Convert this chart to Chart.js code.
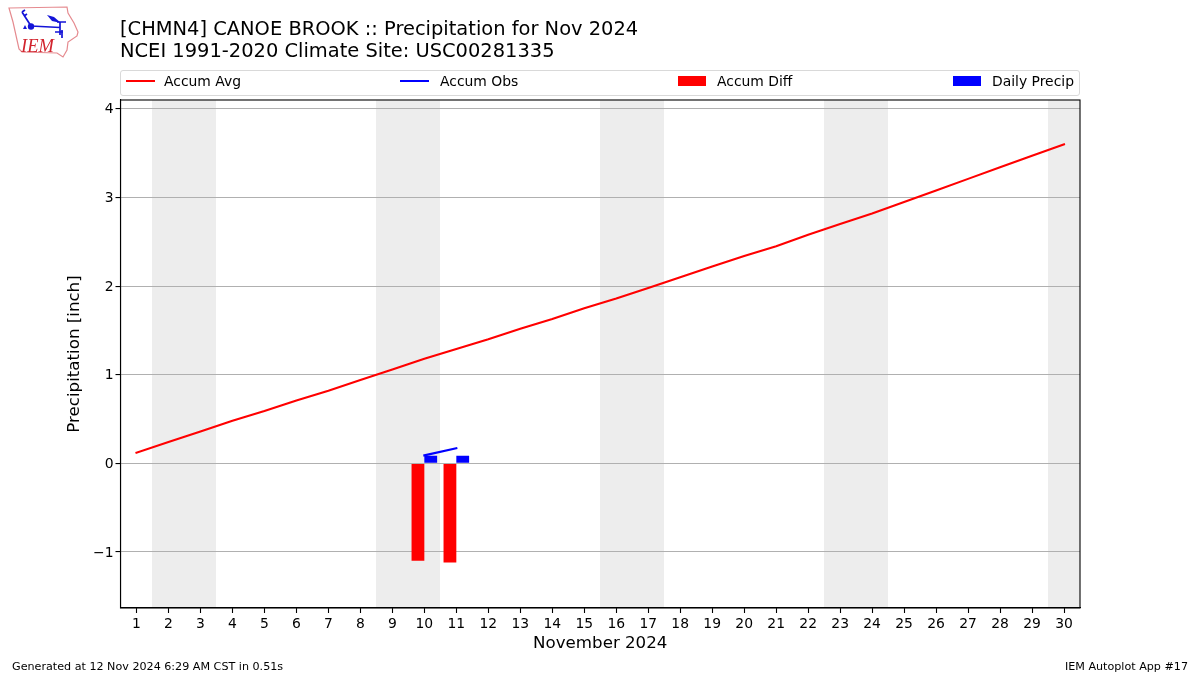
<!DOCTYPE html>
<html>
<head>
<meta charset="utf-8">
<title>Precipitation for Nov 2024</title>
<script src="https://cdn.jsdelivr.net/npm/chart.js@4"></script>
<style>
  html, body { margin: 0; padding: 0; background: #fff; }
  body { width: 1200px; height: 675px; position: relative; overflow: hidden; font-family: "DejaVu Sans", sans-serif; color: #000; }
  #chartBox { position: absolute; left: 0; top: 0; width: 1200px; height: 675px; }
  .abs { position: absolute; white-space: nowrap; }
  #title { left: 120px; top: 18px; font-size: 19.45px; line-height: 22px; }
  #legend { left: 120px; top: 70px; width: 958px; height: 24px; border: 1px solid #d9d9d9; border-radius: 3px; }
  .lg { position: absolute; top: 2px; font-size: 13.9px; line-height: 16px; }
  .sw { position: absolute; }
  .foot { font-size: 11.15px; top: 660px; }
</style>
</head>
<body>
<div id="chartBox"><canvas id="myChart"></canvas></div>

<svg class="abs" style="left:0;top:0" width="90" height="62">
  <polygon points="9,8 67,7 68,13 74,23 78,32 77,36 68,42 67,50 63,57 57,53 22,52 19,49 13,22" fill="#fff" stroke="#e58a8f" stroke-width="1.2"/>
  <g stroke="#1414d8" fill="none" stroke-width="1.7">
    <path d="M31,26 L60,27.5 M57,22 L66,22 M60,22 L60,35 M22,12 L31,26 M22,12 L25,10 M24,16 L27,14"/>
    <path d="M55,32 L63,32 M62,30 L62,38"/>
  </g>
  <circle cx="31" cy="26.5" r="3.2" fill="#1414d8"/>
  <polygon points="47,15 54,17 61,23 52,21" fill="#1414d8"/>
  <polygon points="25,25 27,29 23,29" fill="#1414d8"/>
  <text x="21" y="52" font-family="Liberation Serif" font-style="italic" font-size="18.5" fill="#d2242e">IEM</text>
</svg>

<div id="title" class="abs">[CHMN4] CANOE BROOK :: Precipitation for Nov 2024<br>NCEI 1991-2020 Climate Site: USC00281335</div>

<div id="legend" class="abs">
  <div class="sw" style="left:5px;top:9px;width:29px;height:2px;background:#f00"></div>
  <div class="lg" style="left:43px">Accum Avg</div>
  <div class="sw" style="left:279px;top:9px;width:29px;height:2px;background:#00f"></div>
  <div class="lg" style="left:319px">Accum Obs</div>
  <div class="sw" style="left:557px;top:5px;width:28px;height:10px;background:#f00"></div>
  <div class="lg" style="left:596px">Accum Diff</div>
  <div class="sw" style="left:832px;top:5px;width:28px;height:10px;background:#00f"></div>
  <div class="lg" style="left:871px">Daily Precip</div>
</div>

<div class="abs foot" style="left:12px">Generated at 12 Nov 2024 6:29 AM CST in 0.51s</div>
<div class="abs foot" style="right:12px">IEM Autoplot App #17</div>

<script>
var days = ['1','2','3','4','5','6','7','8','9','10','11','12','13','14','15','16','17','18','19','20','21','22','23','24','25','26','27','28','29','30'];
var accumAvg = [0.12,0.24,0.36,0.48,0.59,0.71,0.82,0.94,1.06,1.18,1.29,1.40,1.52,1.63,1.75,1.86,1.98,2.10,2.22,2.34,2.45,2.58,2.70,2.82,2.95,3.08,3.21,3.34,3.47,3.60];
var accumObs = [null,null,null,null,null,null,null,null,null,0.09,0.17];
var accumDiff = [null,null,null,null,null,null,null,null,null,-1.10,-1.12];
var dailyPrecip = [null,null,null,null,null,null,null,null,null,0.085,0.085];
var weekendDays = ['2','3','9','10','16','17','23','24','30'];
var yTicks = [-1,0,1,2,3,4];
var yMin = -1.632, yMax = 4.1;

// weekend bands under the grid, plus the box around the axes
var framePlugin = {
    id: 'frame',
    beforeDraw: function(chart){
        var c = chart.ctx, a = chart.chartArea, x = chart.scales.x;
        var half = (x.getPixelForValue(1) - x.getPixelForValue(0)) / 2;
        c.save();
        c.fillStyle = '#ededed';
        weekendDays.forEach(function(d){
            var px = x.getPixelForValue(days.indexOf(d));
            var x0 = Math.round(px - half), x1 = Math.round(px + half);
            c.fillRect(x0, a.top, x1 - x0, a.bottom - a.top);
        });
        c.restore();
    },
    afterDraw: function(chart){
        var c = chart.ctx, a = chart.chartArea;
        c.save();
        c.strokeStyle = '#000';
        c.lineWidth = 1.1;
        c.strokeRect(a.left, a.top, a.right - a.left, a.bottom - a.top);
        c.restore();
    }
};

window.onload = function(){
    var font = 'DejaVu Sans';
    var ctx = document.getElementById('myChart').getContext('2d');
    window.myChart = new Chart(ctx, {
        type: 'bar',
        plugins: [framePlugin],
        data: {
            labels: days,
            datasets: [
                { type: 'line', label: 'Accum Avg', data: accumAvg, borderColor: '#f00', backgroundColor: '#f00', borderWidth: 2.1, borderCapStyle: 'square', pointRadius: 0, tension: 0, order: 1 },
                { type: 'line', label: 'Accum Obs', data: accumObs, borderColor: '#00f', backgroundColor: '#00f', borderWidth: 2.1, borderCapStyle: 'square', pointRadius: 0, tension: 0, spanGaps: false, order: 2 },
                { label: 'Accum Diff', data: accumDiff, backgroundColor: '#f00', categoryPercentage: 0.8, barPercentage: 1, order: 3 },
                { label: 'Daily Precip', data: dailyPrecip, backgroundColor: '#00f', categoryPercentage: 0.8, barPercentage: 1, order: 4 }
            ]
        },
        options: {
            responsive: true,
            maintainAspectRatio: false,
            animation: false,
            layout: { padding: { left: 0, right: 120, top: 100, bottom: 0 } },
            plugins: {
                legend: { display: false },
                title: { display: false },
                tooltip: { enabled: false }
            },
            scales: {
                x: {
                    offset: true,
                    grid: { offset: false, drawOnChartArea: false, tickColor: '#000', tickLength: 5, tickWidth: 1.1 },
                    border: { color: '#000', width: 1.1 },
                    ticks: { color: '#000', font: { family: font, size: 13.9 }, maxRotation: 0, autoSkip: false, padding: 3 },
                    title: { display: true, text: 'November 2024', color: '#000', font: { family: font, size: 16.67 }, padding: { top: 2, bottom: 21 } },
                    afterFit: function(scale){ scale.height = 67; }
                },
                y: {
                    min: yMin,
                    max: yMax,
                    grid: { color: '#b0b0b0', lineWidth: 1.1, tickColor: '#000', tickLength: 5, tickWidth: 1.1 },
                    border: { color: '#000', width: 1.1 },
                    afterBuildTicks: function(scale){
                        scale.ticks = yTicks.map(function(v){ return { value: v }; });
                    },
                    ticks: {
                        color: '#000',
                        font: { family: font, size: 13.9 },
                        padding: 2,
                        labelOffset: 1,
                        callback: function(v){ return v < 0 ? '\u2212' + Math.abs(v) : String(v); }
                    },
                    title: { display: true, text: 'Precipitation [inch]', color: '#000', font: { family: font, size: 16.67 }, padding: { top: 65, bottom: 10 } },
                    afterFit: function(scale){ scale.width = 120.5; }
                }
            }
        }
    });
}
</script>
</body>
</html>
